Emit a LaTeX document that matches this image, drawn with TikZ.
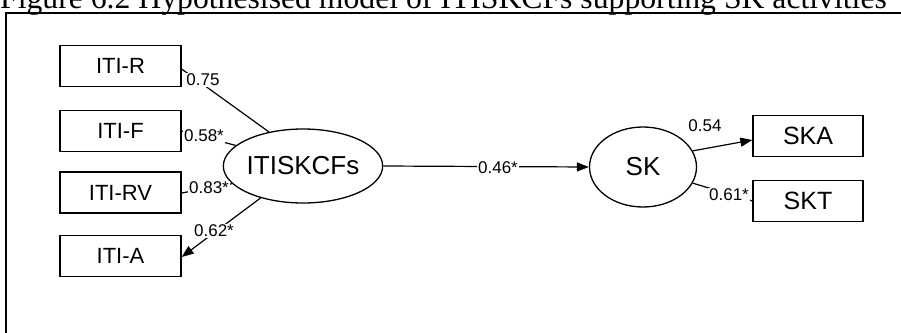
\documentclass[tikz,border=0pt]{standalone}
\usepackage{fontspec}
\setmainfont{Liberation Serif}
\newfontfamily\arialf{Liberation Sans}
\usetikzlibrary{shapes.geometric,arrows.meta}
\begin{document}
\begin{tikzpicture}[x=1pt,y=-1pt,
  box/.style={draw, line width=1.3pt, inner sep=0pt, minimum width=121pt, minimum height=41pt, font=\arialf\fontsize{22}{22}\selectfont},
  rbox/.style={box, minimum width=110pt, font=\arialf\fontsize{25}{25}\selectfont},
  lat/.style={ellipse, draw, line width=1.3pt, inner sep=0pt, font=\arialf\fontsize{26}{26}\selectfont},
  conn/.style={line width=1.2pt},
  arr/.style={conn, -{Triangle[length=12pt,width=9pt]}},
  lbl/.style={fill=white, inner sep=1pt, font=\arialf\fontsize{17}{17}\selectfont}]
\useasboundingbox (0,0) rectangle (901,332);
\begin{scope}
\clip (0,0) rectangle (901,332);
\node[anchor=base west, inner sep=0pt, font=\fontsize{31.7}{32}\selectfont] (title) at (0,9) {Figure 6.2 Hypothesised model of ITISKCFs supporting SK activities};
\end{scope}
\coordinate (fbl) at (6,334);
\coordinate (ftl) at (6,13);
\coordinate (ftr) at (903,13);
\draw[line width=1.6pt] (fbl) -- (ftl) -- (ftr);
% observed variables
\node[box] (rA) at (120.5,66) {ITI-R};
\node[box] (rB) at (120.5,131) {ITI-F};
\node[box] (rC) at (120.5,192.5) {ITI-RV};
\node[box] (rD) at (120.5,256) {ITI-A};
\node[rbox] (ska) at (808,136) {SKA};
\node[rbox] (skt) at (808,201) {SKT};
% latent variables
\node[lat, minimum width=120pt, minimum height=74pt] (I) at (303,166) {ITISKCFs};
\node[lat, minimum width=107pt, minimum height=80pt] (SK) at (643,167) {SK};
% connectors
\draw[conn] (I.135) -- ([yshift=-3pt]rA.east);
\draw[conn] (I.163) -- (rB.east);
\draw[conn] (I.194) -- ([yshift=-0.5pt]rC.east);
\draw[arr] (I.217) -- ([yshift=-1pt]rD.east);
\draw[arr] (I.east) -- (SK.west);
\draw[arr] (SK.18) -- ([yshift=-4pt]ska.west);
\draw[conn] (SK.-18) -- (skt.west);
% labels
\node[lbl] (l1) at (203,80) {0.75};
\node[lbl] (l2) at (204,136) {0.58*};
\node[lbl] (l3) at (209,188) {0.83*};
\node[lbl] (l4) at (214,231) {0.62*};
\node[lbl] (l5) at (498,168) {0.46*};
\node[lbl, fill=none] (l6) at (705,126) {0.54};
\node[lbl] (l7) at (729,195) {0.61*};
\end{tikzpicture}
\end{document}
